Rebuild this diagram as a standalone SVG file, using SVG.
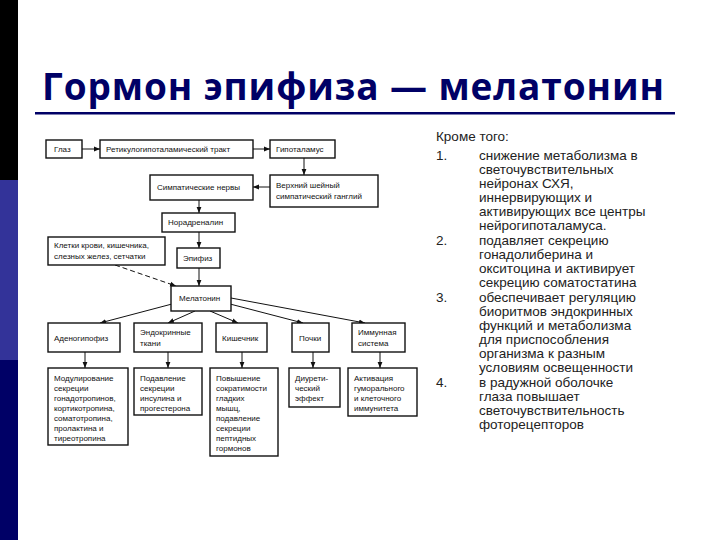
<svg xmlns="http://www.w3.org/2000/svg" width="720" height="540" viewBox="0 0 720 540">
<defs>
<marker id="ar" viewBox="0 0 10 10" refX="10" refY="5" markerWidth="6" markerHeight="6" orient="auto"><path d="M0,1 L10,5 L0,9 z" fill="#111"/></marker>
<style>
.b{fill:#fff;stroke:#111;stroke-width:1.4}
.t{font-family:"Liberation Sans",Arial,sans-serif;font-size:8px;fill:#111}
.c{stroke:#111;stroke-width:1;fill:none;marker-end:url(#ar)}
.r{font-family:"Liberation Sans",Arial,sans-serif;font-size:13.5px;fill:#222}
</style>
</defs>
<rect width="720" height="540" fill="#fff"/>
<rect x="0" y="0" width="18" height="180" fill="#000"/>
<rect x="0" y="180" width="18" height="180" fill="#333399"/>
<rect x="0" y="360" width="18" height="180" fill="#000066"/>
<text x="42" y="100" font-family="'Open Sans','DejaVu Sans',sans-serif" font-weight="bold" font-size="37" fill="#000066" textLength="622">Гормон эпифиза — мелатонин</text>
<rect x="35" y="112" width="640" height="2.5" fill="#000066"/>

<g id="connectors">
<line class="c" x1="82" y1="149" x2="100" y2="149"/>
<line class="c" x1="253" y1="149" x2="270" y2="149"/>
<line class="c" x1="304" y1="158" x2="304" y2="175"/>
<line class="c" x1="270" y1="187" x2="253" y2="187"/>
<line class="c" x1="199" y1="200" x2="199" y2="213"/>
<line class="c" x1="199" y1="232" x2="199" y2="248"/>
<line class="c" x1="199" y1="268" x2="199" y2="286"/>
<line class="c" x1="115" y1="265" x2="176" y2="286" stroke-dasharray="5,3"/>
<line class="c" x1="172" y1="304" x2="100" y2="323"/>
<line class="c" x1="195" y1="311" x2="168" y2="323"/>
<line class="c" x1="210" y1="311" x2="238" y2="323"/>
<line class="c" x1="230" y1="304" x2="303" y2="323"/>
<line class="c" x1="231" y1="298" x2="365" y2="323"/>
<line class="c" x1="85" y1="352" x2="85" y2="368"/>
<line class="c" x1="168" y1="352" x2="168" y2="368"/>
<line class="c" x1="242" y1="352" x2="242" y2="368"/>
<line class="c" x1="313" y1="352" x2="313" y2="368"/>
<line class="c" x1="380" y1="352" x2="380" y2="368"/>
</g>

<g id="n1"><rect class="b" x="46" y="140" width="36" height="18"/><text class="t" x="54" y="152">Глаз</text></g>
<g id="n2"><rect class="b" x="100" y="140" width="153" height="18"/><text class="t" x="106" y="152">Ретикулогипоталамический тракт</text></g>
<g id="n3"><rect class="b" x="270" y="140" width="65" height="18"/><text class="t" x="276" y="152">Гипоталамус</text></g>
<g id="n4"><rect class="b" x="150" y="175" width="103" height="25"/><text class="t" x="157" y="190">Симпатические нервы</text></g>
<g id="n5"><rect class="b" x="270" y="175" width="108" height="32"/><text class="t" x="276" y="188">Верхний шейный</text><text class="t" x="276" y="199">симпатический ганглий</text></g>
<g id="n6"><rect class="b" x="162" y="213" width="73" height="19"/><text class="t" x="168" y="225">Норадреналин</text></g>
<g id="n7"><rect class="b" x="48" y="237" width="117" height="28"/><text class="t" x="54" y="248">Клетки крови, кишечника,</text><text class="t" x="54" y="259">слезных желез, сетчатки</text></g>
<g id="n8"><rect class="b" x="177" y="248" width="43" height="20"/><text class="t" x="183" y="261">Эпифиз</text></g>
<g id="n9"><rect class="b" x="171" y="286" width="60" height="25"/><text class="t" x="179" y="301">Мелатонин</text></g>
<g id="n10"><rect class="b" x="48" y="323" width="72" height="29"/><text class="t" x="54" y="341">Аденогипофиз</text></g>
<g id="n11"><rect class="b" x="134" y="323" width="68" height="29"/><text class="t" x="140" y="335">Эндокринные</text><text class="t" x="140" y="346">ткани</text></g>
<g id="n12"><rect class="b" x="216" y="323" width="51" height="29"/><text class="t" x="222" y="341">Кишечник</text></g>
<g id="n13"><rect class="b" x="292" y="323" width="37" height="29"/><text class="t" x="299" y="341">Почки</text></g>
<g id="n14"><rect class="b" x="352" y="323" width="53" height="29"/><text class="t" x="358" y="335">Иммунная</text><text class="t" x="358" y="346">система</text></g>
<g id="n15"><rect class="b" x="48" y="368" width="80" height="77"/>
<text class="t" x="54" y="381">Модулирование</text><text class="t" x="54" y="391">секреции</text><text class="t" x="54" y="401">гонадотропинов,</text><text class="t" x="54" y="411">кортикотропина,</text><text class="t" x="54" y="421">соматотропина,</text><text class="t" x="54" y="431">пролактина и</text><text class="t" x="54" y="441">тиреотропина</text></g>
<g id="n16"><rect class="b" x="134" y="368" width="68" height="47"/>
<text class="t" x="140" y="381">Подавление</text><text class="t" x="140" y="391">секреции</text><text class="t" x="140" y="401">инсулина и</text><text class="t" x="140" y="411">прогестерона</text></g>
<g id="n17"><rect class="b" x="210" y="368" width="68" height="88"/>
<text class="t" x="216" y="381">Повышение</text><text class="t" x="216" y="391">сократимости</text><text class="t" x="216" y="401">гладких</text><text class="t" x="216" y="411">мышц,</text><text class="t" x="216" y="421">подавление</text><text class="t" x="216" y="431">секреции</text><text class="t" x="216" y="441">пептидных</text><text class="t" x="216" y="451">гормонов</text></g>
<g id="n18"><rect class="b" x="289" y="368" width="51" height="39"/>
<text class="t" x="295" y="381">Диурети-</text><text class="t" x="295" y="391">ческий</text><text class="t" x="295" y="401">эффект</text></g>
<g id="n19"><rect class="b" x="348" y="368" width="69" height="48"/>
<text class="t" x="354" y="381">Активация</text><text class="t" x="354" y="391">гуморального</text><text class="t" x="354" y="401">и клеточного</text><text class="t" x="354" y="411">иммунитета</text></g>

<g id="notes">
<text class="r" x="436" y="141">Кроме того:</text>
<text class="r" x="436" y="160">1.</text>
<text class="r" x="479" y="160">снижение метаболизма в</text>
<text class="r" x="479" y="174">светочувствительных</text>
<text class="r" x="479" y="188">нейронах СХЯ,</text>
<text class="r" x="479" y="202">иннервирующих и</text>
<text class="r" x="479" y="216">активирующих все центры</text>
<text class="r" x="479" y="230">нейрогипоталамуса.</text>
<text class="r" x="436" y="245">2.</text>
<text class="r" x="479" y="245">подавляет секрецию</text>
<text class="r" x="479" y="259">гонадолиберина и</text>
<text class="r" x="479" y="273">окситоцина и активирует</text>
<text class="r" x="479" y="287">секрецию соматостатина</text>
<text class="r" x="436" y="302">3.</text>
<text class="r" x="479" y="302">обеспечивает регуляцию</text>
<text class="r" x="479" y="316">биоритмов эндокринных</text>
<text class="r" x="479" y="330">функций и метаболизма</text>
<text class="r" x="479" y="344">для приспособления</text>
<text class="r" x="479" y="358">организма к разным</text>
<text class="r" x="479" y="372">условиям освещенности</text>
<text class="r" x="436" y="387">4.</text>
<text class="r" x="479" y="387">в радужной оболочке</text>
<text class="r" x="479" y="401">глаза повышает</text>
<text class="r" x="479" y="415">светочувствительность</text>
<text class="r" x="479" y="429">фоторецепторов</text>
</g>
</svg>
